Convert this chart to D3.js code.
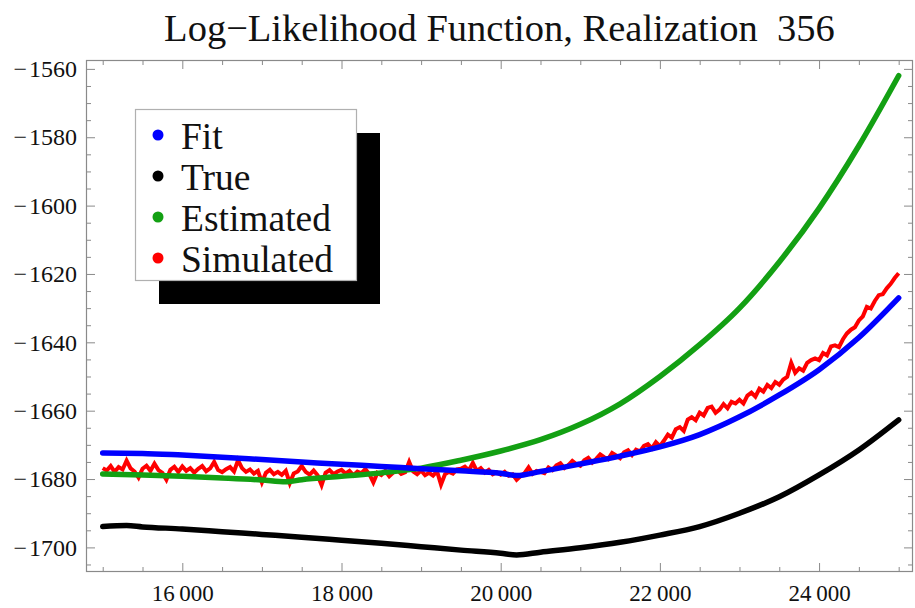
<!DOCTYPE html>
<html>
<head>
<meta charset="utf-8">
<script src="https://cdn.jsdelivr.net/npm/d3@7"></script>
<style>
  html, body { margin: 0; padding: 0; background: #fff; }
  svg { display: block; }
  text { font-family: "Liberation Serif", "Times New Roman", serif; }
</style>
</head>
<body>
<svg id="chart" width="915" height="608"></svg>
<script>
// Log-likelihood versus parameter value, four curves.
const titleText = "Log\u2212Likelihood Function, Realization  356";

// Fit curve (blue)
const fitX = [15000, 15500, 16000, 16500, 17000, 17500, 18000, 18500, 19000, 19500, 20000, 20200,
              20500, 21000, 21500, 22000, 22500, 23000, 23500, 24000, 24500, 25000];
const fitY = [-1672.4, -1672.5, -1673.0, -1673.6, -1674.3, -1675.0, -1675.7, -1676.3, -1677.0, -1677.6, -1678.3, -1679.0,
              -1677.8, -1675.6, -1673.3, -1670.6, -1667.0, -1661.8, -1655.4, -1648.0, -1638.6, -1627.0];

// True curve (black)
const trueX = [15000, 15300, 15500, 16000, 16500, 17000, 17500, 18000, 18500, 19000, 19500, 20000, 20200,
               20500, 21000, 21500, 22000, 22500, 23000, 23500, 24000, 24500, 25000];
const trueY = [-1693.9, -1693.6, -1694.0, -1694.6, -1695.4, -1696.2, -1697.0, -1697.9, -1698.8, -1699.8, -1700.8, -1701.7, -1702.2,
               -1701.4, -1700.1, -1698.5, -1696.4, -1693.9, -1690.0, -1685.2, -1678.8, -1671.5, -1662.7];

// Estimated curve (green)
const estX = [15000, 15500, 16000, 16500, 17000, 17300, 17500, 18000, 18500, 19000, 19500, 20000,
              20500, 21000, 21500, 22000, 22500, 23000, 23500, 24000, 24500, 25000];
const estY = [-1678.5, -1678.8, -1679.2, -1679.7, -1680.3, -1680.8, -1680.2, -1679.2, -1678.2, -1676.8, -1674.5, -1671.8,
              -1668.5, -1664.0, -1658.0, -1650.0, -1640.7, -1630.0, -1616.5, -1600.8, -1582.5, -1562.0];

// Simulated curve (red), sampled every 50 from 15000 to 25000
const simStart = 15000, simStep = 50;
const simY = [
  -1676.8, -1677.5, -1676.2, -1677.9, -1676.5, -1677.2, -1674.6, -1676.9, -1677.8, -1679.6,
  -1677.0, -1676.1, -1677.6, -1675.5, -1677.4, -1678.2, -1680.2, -1677.3, -1676.4, -1677.9,
  -1676.3, -1677.6, -1676.8, -1678.1, -1677.0, -1676.2, -1677.7, -1676.9, -1675.0, -1677.4,
  -1678.0, -1677.1, -1676.5, -1677.8, -1674.5, -1676.8, -1677.9, -1677.2, -1678.4, -1677.6,
  -1681.0, -1678.2, -1677.3, -1678.6, -1677.9, -1678.8, -1677.6, -1681.2, -1678.4, -1677.8,
  -1676.2, -1677.9, -1678.7, -1677.5, -1678.9, -1681.8, -1678.2, -1677.4, -1678.6, -1677.8,
  -1677.3, -1678.4, -1677.6, -1678.9, -1677.8, -1678.3, -1677.1, -1678.6, -1681.0, -1678.2,
  -1678.8, -1677.6, -1679.2, -1678.1, -1677.4, -1678.5, -1678.0, -1675.0, -1677.8, -1678.6,
  -1677.5, -1678.9, -1678.2, -1679.0, -1677.7, -1681.6, -1678.6, -1677.9, -1678.4, -1677.2,
  -1677.0, -1676.4, -1677.5, -1675.3, -1677.6, -1676.8, -1678.1, -1677.3, -1678.6, -1678.0,
  -1678.7, -1677.9, -1679.0, -1678.6, -1680.2, -1679.1, -1678.3, -1676.6, -1678.5, -1677.6,
  -1677.9, -1678.3, -1676.6, -1677.4, -1676.0, -1675.4, -1676.8, -1675.9, -1674.7, -1675.6,
  -1676.1, -1674.5, -1673.8, -1675.2, -1674.1, -1672.8, -1673.6, -1674.2, -1672.4, -1673.1,
  -1673.9, -1672.2, -1671.6, -1673.0, -1671.4, -1671.9, -1670.3, -1669.8, -1671.0, -1669.2,
  -1670.4, -1668.8, -1667.0, -1667.9, -1665.4, -1664.8, -1665.9, -1662.6, -1661.9, -1662.8,
  -1660.6, -1661.4, -1659.2, -1658.8, -1660.6, -1659.7, -1658.1, -1659.3, -1657.4, -1657.9,
  -1656.8, -1657.9, -1655.6, -1654.7, -1655.9, -1653.6, -1654.4, -1652.5, -1653.4, -1651.6,
  -1652.4, -1650.9, -1650.1, -1646.0, -1648.9, -1647.6, -1648.3, -1646.0, -1645.2, -1644.7,
  -1645.2, -1643.1, -1643.8, -1641.2, -1640.9, -1641.4, -1639.1, -1637.4, -1636.3, -1635.6,
  -1633.6, -1632.4, -1629.6, -1630.1, -1627.9, -1626.2, -1625.9, -1624.2, -1622.9, -1621.2,
  -1619.8
];

// Axis ticks
const xMajorTicks = [16000, 18000, 20000, 22000, 24000];
const yMajorTicks = [-1700, -1680, -1660, -1640, -1620, -1600, -1580, -1560];

// Legend entries
const legendLabels = ["Fit", "True", "Estimated", "Simulated"];
const legendColors = ["#0000ff", "#000000", "#13a013", "#ff0000"];

const svg = d3.select("#chart");
const frame = { left: 86, right: 913, top: 60, bottom: 572 };

const x = d3.scaleLinear().domain([14790, 25180]).range([frame.left, frame.right]);
const y = d3.scaleLinear().domain([-1707.2, -1557.4]).range([frame.bottom, frame.top]);

const xMinorTicks = d3.range(15000, 25001, 500).filter(v => !xMajorTicks.includes(v));
const yMinorTicks = d3.range(-1705, -1557, 5).filter(v => !yMajorTicks.includes(v));

const fmtX = v => d3.format("d")(v).replace(/(\d{2})(\d{3})$/, "$1\u2009$2");
const fmtY = v => "\u2212\u200A" + Math.abs(v);

const frameColor = "#8a8a8a";

// Title
svg.append("text")
  .attr("x", (frame.left + frame.right) / 2)
  .attr("y", 41)
  .attr("text-anchor", "middle")
  .attr("font-size", 38.5)
  .style("white-space", "pre")
  .attr("fill", "#111")
  .text(titleText);

// Clip for data curves
svg.append("clipPath").attr("id", "plotclip")
  .append("rect")
  .attr("x", frame.left).attr("y", frame.top)
  .attr("width", frame.right - frame.left).attr("height", frame.bottom - frame.top);

const plot = svg.append("g").attr("clip-path", "url(#plotclip)");

const line = d3.line().x(d => x(d[0])).y(d => y(d[1]));
const smooth = d3.line().x(d => x(d[0])).y(d => y(d[1])).curve(d3.curveMonotoneX);

const simData = simY.map((v, i) => [simStart + i * simStep, v]);
const fitData = fitX.map((v, i) => [v, fitY[i]]);
const trueData = trueX.map((v, i) => [v, trueY[i]]);
const estData = estX.map((v, i) => [v, estY[i]]);

plot.append("path").datum(simData)
  .attr("d", line).attr("fill", "none")
  .attr("stroke", legendColors[3]).attr("stroke-width", 4).attr("stroke-linejoin", "miter");
plot.append("path").datum(estData)
  .attr("d", smooth).attr("fill", "none")
  .attr("stroke", legendColors[2]).attr("stroke-width", 5.5).attr("stroke-linecap", "round");
plot.append("path").datum(trueData)
  .attr("d", smooth).attr("fill", "none")
  .attr("stroke", legendColors[1]).attr("stroke-width", 5.5).attr("stroke-linecap", "round");
plot.append("path").datum(fitData)
  .attr("d", smooth).attr("fill", "none")
  .attr("stroke", legendColors[0]).attr("stroke-width", 5.5).attr("stroke-linecap", "round");

// Frame with inward ticks on all sides
function styleAxis(g) {
  g.select(".domain").remove();
  g.selectAll(".tick line").attr("stroke", frameColor).attr("stroke-width", 1);
  g.selectAll(".tick text").attr("fill", "#111");
}

const bottomMajor = svg.append("g").attr("transform", `translate(0,${frame.bottom})`)
  .call(d3.axisBottom(x).tickValues(xMajorTicks).tickSize(-9).tickPadding(12).tickFormat(fmtX));
styleAxis(bottomMajor);
bottomMajor.selectAll(".tick text").attr("font-size", 23).attr("dy", "0.75em");

const bottomMinor = svg.append("g").attr("transform", `translate(0,${frame.bottom})`)
  .call(d3.axisBottom(x).tickValues(xMinorTicks).tickSize(-5).tickFormat(""));
styleAxis(bottomMinor);

const topMajor = svg.append("g").attr("transform", `translate(0,${frame.top})`)
  .call(d3.axisTop(x).tickValues(xMajorTicks).tickSize(-9).tickFormat(""));
styleAxis(topMajor);
const topMinor = svg.append("g").attr("transform", `translate(0,${frame.top})`)
  .call(d3.axisTop(x).tickValues(xMinorTicks).tickSize(-5).tickFormat(""));
styleAxis(topMinor);

const leftMajor = svg.append("g").attr("transform", `translate(${frame.left},0)`)
  .call(d3.axisLeft(y).tickValues(yMajorTicks).tickSize(-9).tickPadding(9).tickFormat(fmtY));
styleAxis(leftMajor);
leftMajor.selectAll(".tick text").attr("font-size", 24);

const leftMinor = svg.append("g").attr("transform", `translate(${frame.left},0)`)
  .call(d3.axisLeft(y).tickValues(yMinorTicks).tickSize(-5).tickFormat(""));
styleAxis(leftMinor);

const rightMajor = svg.append("g").attr("transform", `translate(${frame.right},0)`)
  .call(d3.axisRight(y).tickValues(yMajorTicks).tickSize(-9).tickFormat(""));
styleAxis(rightMajor);
const rightMinor = svg.append("g").attr("transform", `translate(${frame.right},0)`)
  .call(d3.axisRight(y).tickValues(yMinorTicks).tickSize(-5).tickFormat(""));
styleAxis(rightMinor);

svg.append("rect")
  .attr("x", frame.left + 0.5).attr("y", frame.top + 0.5)
  .attr("width", frame.right - frame.left - 1).attr("height", frame.bottom - frame.top - 1)
  .attr("fill", "none").attr("stroke", frameColor).attr("stroke-width", 1.2);

// Legend with drop shadow
const lg = { x: 135, y: 109, w: 221, h: 171, shadow: 24 };
svg.append("rect")
  .attr("x", lg.x + lg.shadow).attr("y", lg.y + lg.shadow)
  .attr("width", lg.w).attr("height", lg.h).attr("fill", "#000");
svg.append("rect")
  .attr("x", lg.x + 0.5).attr("y", lg.y + 0.5)
  .attr("width", lg.w).attr("height", lg.h)
  .attr("fill", "#fff").attr("stroke", "#b0b0b0").attr("stroke-width", 1.2);

const rowY = d3.scaleLinear().domain([0, 3]).range([136, 259]);
const items = svg.append("g").selectAll("g").data(legendLabels).join("g")
  .attr("transform", (d, i) => `translate(0,${rowY(i)})`);
items.append("circle").attr("cx", 158).attr("cy", -1).attr("r", 5.5)
  .attr("fill", (d, i) => legendColors[i]);
items.append("text").attr("x", 181).attr("y", 0).attr("dy", "0.35em")
  .attr("font-size", 37.5).attr("fill", "#111").text(d => d);
</script>
</body>
</html>
